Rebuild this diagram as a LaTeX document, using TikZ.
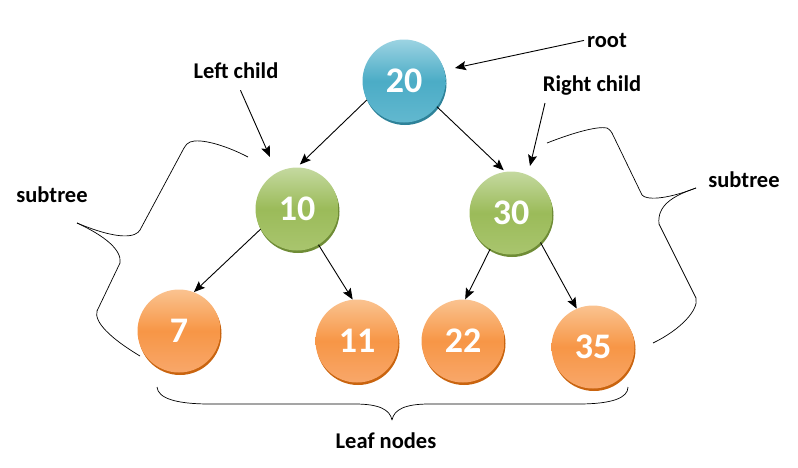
\documentclass[tikz,border=0pt]{standalone}
\usepackage{fontspec}
\setmainfont{Carlito}
\usetikzlibrary{arrows.meta,shadows}
\definecolor{tealtop}{HTML}{9CD3E2}
\definecolor{tealmid}{HTML}{4BACC6}
\definecolor{tealbot}{HTML}{62B8CF}
\definecolor{tealsh}{HTML}{2E8299}
\definecolor{greentop}{HTML}{C5D9A0}
\definecolor{greenmid}{HTML}{9BBB59}
\definecolor{greenbot}{HTML}{A9C56E}
\definecolor{greensh}{HTML}{6F8C36}
\definecolor{orangetop}{HTML}{FAC390}
\definecolor{orangemid}{HTML}{F79646}
\definecolor{orangebot}{HTML}{F8A76A}
\definecolor{orangesh}{HTML}{C9640F}
\tikzset{
  tnode/.style={circle, minimum size=83pt, inner sep=0pt, text=white,
    font=\bfseries\fontsize{36}{36}\selectfont},
  tealn/.style={tnode, top color=tealtop, bottom color=tealbot, middle color=tealmid,
    general shadow={fill=tealsh, shadow xshift=1pt, shadow yshift=-2.5pt}},
  greenn/.style={tnode, top color=greentop, bottom color=greenbot, middle color=greenmid,
    general shadow={fill=greensh, shadow xshift=1pt, shadow yshift=-2.5pt}},
  orangen/.style={tnode, top color=orangetop, bottom color=orangebot, middle color=orangemid,
    general shadow={fill=orangesh, shadow xshift=1pt, shadow yshift=-2.5pt}},
  conn/.style={line width=0.9pt, -{Stealth[length=11pt,width=9pt,inset=2pt]}},
  lbl/.style={inner sep=1pt, font=\bfseries\fontsize{22.5}{22.5}\selectfont},
  bracel/.style={line width=0.7pt, line join=round}
}
\begin{document}
\begin{tikzpicture}[x=1pt,y=-1pt]
\useasboundingbox (0,0) rectangle (798,467);

% tree nodes
\node[tealn]   (r)  at (404,81)  {20};
\node[greenn]  (a)  at (297,209) {10};
\node[greenn]  (b)  at (511,213) {30};
\node[orangen] (l1) at (179,331) {7};
\node[orangen] (l2) at (357,341) {11};
\node[orangen] (l3) at (463,341) {22};
\node[orangen] (l4) at (593,347) {35};

% labels
\node[lbl] (rootl) at (607,40)  {root};
\node[lbl] (lcl)   at (236,71)  {Left child};
\node[lbl] (rcl)   at (592,86)  {Right child};
\node[lbl] (stl)   at (52,195)  {subtree};
\node[lbl] (str)   at (744,180) {subtree};
\node[lbl] (leafl) at (386,441) {Leaf nodes};

% tree edges
\draw[conn, shorten >=4pt] (r.207) -- (a.90);
\draw[conn, shorten >=2pt] (r.322) -- (b.98);
\draw[conn] (a.209) -- (l1.69);
\draw[conn] (a.301) -- (l2.96);
\draw[conn] (b.240) -- (l3.87);
\draw[conn] (b.315) -- (l4.113);

% label pointers
\coordinate (rootp) at (455,68);
\coordinate (lcp)   at (270,157);
\coordinate (rcs)   at (545,103);
\coordinate (rcp)   at (530,166);
\draw[conn, shorten <=2pt] (rootl.west) -- (rootp);
\draw[conn, shorten <=11pt] (lcl.south) -- (lcp);
\draw[conn] (rcs) -- (rcp);

% left subtree brace
\draw[bracel] (248,157) .. controls (225,145) and (200,138) .. (190,142)
  .. controls (187,143) and (186,145) .. (184,148)
  -- (140,230) .. controls (136,237) and (120,241) .. (77,223);
\draw[bracel] (77,223) .. controls (105,236) and (122,250) .. (120,263)
  -- (97,311) .. controls (94,322) and (110,338) .. (140,356);

% right subtree brace
\draw[bracel] (547,143) .. controls (575,132) and (598,126) .. (607,128)
  .. controls (609,129) and (610,130) .. (612,133)
  -- (642,195) .. controls (646,200) and (665,200) .. (696,188);
\draw[bracel] (696,188) .. controls (672,196) and (657,206) .. (659,224)
  -- (696,298) .. controls (699,310) and (680,330) .. (653,343);

% leaf brace
\draw[bracel] (157,387) .. controls (158,398) and (175,404) .. (210,404)
  -- (355,404) .. controls (380,404) and (390,410) .. (392,420)
  .. controls (394,410) and (404,404) .. (429,404)
  -- (578,404) .. controls (612,404) and (628,398) .. (628,387);
\end{tikzpicture}
\end{document}
